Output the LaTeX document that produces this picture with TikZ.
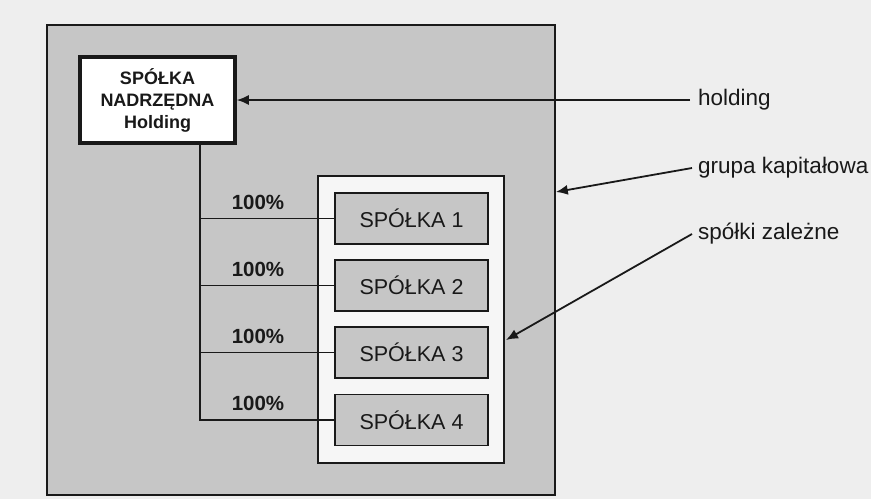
\documentclass[tikz,border=0pt]{standalone}
\usepackage{fontspec}
\setmainfont{Liberation Sans}
\usetikzlibrary{arrows.meta}
\definecolor{pagebg}{RGB}{238,238,238}
\definecolor{grayfill}{RGB}{198,198,198}
\definecolor{innerfill}{RGB}{246,246,246}
\definecolor{ink}{RGB}{25,25,25}
\begin{document}
\begin{tikzpicture}[x=1pt,y=-1pt,
  every node/.style={text=ink},
  compbox/.style={draw=ink,line width=1.8pt,fill=grayfill,minimum width=153pt,minimum height=51pt,inner sep=0pt,font=\fontsize{21.5}{24}\selectfont},
  pct/.style={font=\bfseries\fontsize{20.5}{24}\selectfont,inner sep=0pt},
  lbl/.style={font=\fontsize{22.5}{26}\selectfont,anchor=west,inner sep=0pt},
  conn/.style={draw=ink,line width=1.5pt},
  arr/.style={draw=ink,line width=1.8pt,-{Latex[length=12pt,width=10pt]}}]
\useasboundingbox (0,0) rectangle (871,499);
\fill[pagebg] (0,0) rectangle (871,499);
% group rectangle
\node[draw=ink,line width=1.6pt,fill=grayfill,minimum width=508pt,minimum height=470pt,inner sep=0pt] (grupa) at (301,260) {};
% inner white rectangle
\node[draw=ink,line width=1.6pt,fill=innerfill,minimum width=186pt,minimum height=287pt,inner sep=0pt] (inner) at (411,319.5) {};
% holding box
\node[draw=ink,line width=3.5pt,fill=white,minimum width=155pt,minimum height=86pt,inner sep=0pt,align=center,font=\bfseries\fontsize{18}{22}\selectfont] (holding) at (157.5,100) {SPÓŁKA\\NADRZĘDNA\\Holding};
% subsidiaries
\node[compbox] (s1) at (411.5,218.5) {SPÓŁKA 1};
\node[compbox] (s2) at (411.5,285.5) {SPÓŁKA 2};
\node[compbox] (s3) at (411.5,352.5) {SPÓŁKA 3};
\node[compbox] (s4) at (411.5,420) {SPÓŁKA 4};
% trunk
\coordinate (tx) at (200,0);
\draw[conn] (holding.south -| tx) |- (s4.west);
\draw[conn] (tx |- s1.west) -- (s1.west);
\draw[conn] (tx |- s2.west) -- (s2.west);
\draw[conn] (tx |- s3.west) -- (s3.west);
% percentages
\node[pct] (p1) at (258,202) {100\%};
\node[pct] (p2) at (258,269) {100\%};
\node[pct] (p3) at (258,336) {100\%};
\node[pct] (p4) at (258,403) {100\%};
% labels
\node[lbl] (lh) at (698,100) {holding};
\node[lbl] (lg) at (698,168) {grupa kapitałowa};
\node[lbl] (ls) at (698,234) {spółki zależne};
\coordinate (tg) at (grupa.east |- 0,192);
\coordinate (ts) at (506,340);
\draw[arr] ([xshift=-8pt]lh.west) -- (holding.east);
\draw[arr] ([xshift=-6pt]lg.west) -- (tg);
\draw[arr] ([xshift=-6pt]ls.west) -- (ts);
\end{tikzpicture}
\end{document}
